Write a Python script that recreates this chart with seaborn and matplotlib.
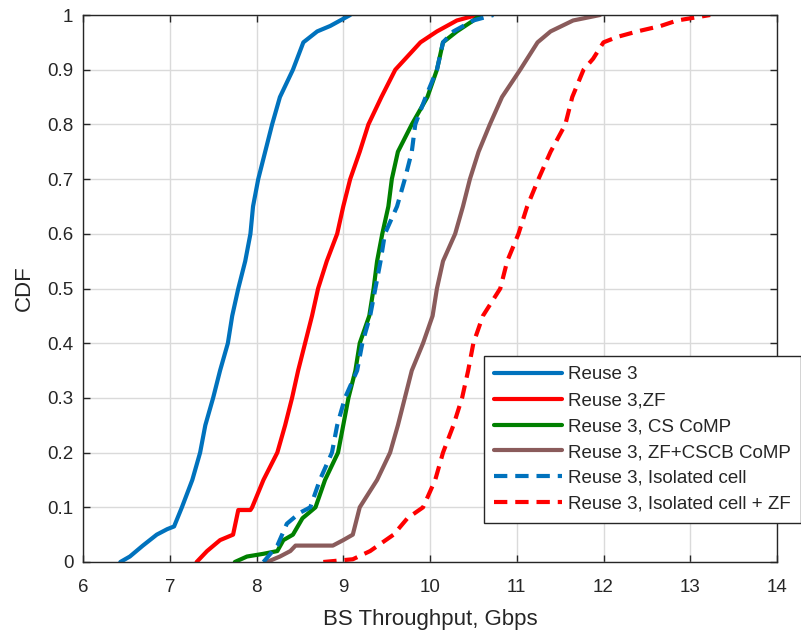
import matplotlib
matplotlib.use("Agg")
import matplotlib.pyplot as plt
import seaborn as sns
import pandas as pd

# ---- data: (throughput Gbps, CDF) ----
reuse3_x = [6.43, 6.54, 6.69, 6.85, 6.97, 7.05, 7.14, 7.26, 7.35, 7.41, 7.50, 7.58, 7.67, 7.72,
            7.79, 7.87, 7.93, 7.96, 8.02, 8.10, 8.18, 8.27, 8.42, 8.54, 8.70, 8.85, 9.08]
reuse3_y = [0.00, 0.01, 0.03, 0.05, 0.06, 0.065, 0.10, 0.15, 0.20, 0.25, 0.30, 0.35, 0.40, 0.45,
            0.50, 0.55, 0.60, 0.65, 0.70, 0.75, 0.80, 0.85, 0.90, 0.95, 0.97, 0.98, 1.00]

zf_x = [7.31, 7.43, 7.58, 7.73, 7.79, 7.93, 7.95, 8.08, 8.24, 8.33, 8.41, 8.48, 8.56, 8.64,
        8.71, 8.81, 8.93, 9.00, 9.08, 9.19, 9.29, 9.44, 9.60, 9.89, 10.08, 10.31, 10.54]
zf_y = [0.00, 0.02, 0.04, 0.05, 0.095, 0.095, 0.10, 0.15, 0.20, 0.25, 0.30, 0.35, 0.40, 0.45,
        0.50, 0.55, 0.60, 0.65, 0.70, 0.75, 0.80, 0.85, 0.90, 0.95, 0.97, 0.99, 1.00]

cs_x = [7.75, 7.89, 8.08, 8.24, 8.31, 8.42, 8.53, 8.68, 8.79, 8.94, 9.00, 9.06, 9.14, 9.19,
        9.30, 9.35, 9.39, 9.45, 9.52, 9.56, 9.63, 9.79, 9.97, 10.08, 10.15, 10.31, 10.50, 10.58]
cs_y = [0.00, 0.01, 0.015, 0.02, 0.04, 0.05, 0.08, 0.10, 0.15, 0.20, 0.25, 0.30, 0.35, 0.40,
        0.45, 0.50, 0.55, 0.60, 0.65, 0.70, 0.75, 0.80, 0.85, 0.90, 0.95, 0.97, 0.99, 1.00]

cscb_x = [8.12, 8.27, 8.39, 8.45, 8.88, 9.00, 9.11, 9.19, 9.39, 9.54, 9.63, 9.71, 9.79, 9.92,
          10.03, 10.08, 10.15, 10.29, 10.38, 10.46, 10.56, 10.69, 10.83, 11.04, 11.24, 11.39,
          11.65, 11.96]
cscb_y = [0.00, 0.01, 0.02, 0.03, 0.03, 0.04, 0.05, 0.10, 0.15, 0.20, 0.25, 0.30, 0.35, 0.40,
          0.45, 0.50, 0.55, 0.60, 0.65, 0.70, 0.75, 0.80, 0.85, 0.90, 0.95, 0.97, 0.99, 1.00]

iso_x = [8.08, 8.24, 8.35, 8.50, 8.62, 8.73, 8.87, 8.93, 9.02, 9.16, 9.22, 9.31, 9.37, 9.43,
         9.48, 9.62, 9.71, 9.79, 9.83, 9.95, 10.08, 10.15, 10.27, 10.50, 10.73]
iso_y = [0.00, 0.03, 0.07, 0.09, 0.10, 0.15, 0.20, 0.25, 0.30, 0.35, 0.40, 0.45, 0.50, 0.55,
         0.60, 0.65, 0.70, 0.75, 0.80, 0.85, 0.90, 0.95, 0.97, 0.99, 1.00]

isozf_x = [8.77, 9.11, 9.31, 9.58, 9.74, 9.92, 10.06, 10.15, 10.27, 10.37, 10.44, 10.50, 10.61,
           10.81, 10.89, 11.02, 11.12, 11.25, 11.39, 11.56, 11.64, 11.77, 11.88, 12.00, 12.16,
           12.39, 12.66, 12.85, 13.23]
isozf_y = [0.00, 0.005, 0.02, 0.05, 0.08, 0.10, 0.15, 0.20, 0.25, 0.30, 0.35, 0.40, 0.45,
           0.50, 0.55, 0.60, 0.65, 0.70, 0.75, 0.80, 0.85, 0.90, 0.92, 0.95, 0.96,
           0.97, 0.98, 0.99, 1.00]

labels = ["Reuse 3", "Reuse 3,ZF", "Reuse 3, CS CoMP", "Reuse 3, ZF+CSCB CoMP",
          "Reuse 3, Isolated cell", "Reuse 3, Isolated cell + ZF"]
x_ticks = [6, 7, 8, 9, 10, 11, 12, 13, 14]
y_ticks = [0, 0.1, 0.2, 0.3, 0.4, 0.5, 0.6, 0.7, 0.8, 0.9, 1]
y_tick_labels = ["0", "0.1", "0.2", "0.3", "0.4", "0.5", "0.6", "0.7", "0.8", "0.9", "1"]

series = [(reuse3_x, reuse3_y), (zf_x, zf_y), (cs_x, cs_y), (cscb_x, cscb_y),
          (iso_x, iso_y), (isozf_x, isozf_y)]
colors = ["#0072BD", "#FF0000", "#008000", "#8A5B5B", "#0072BD", "#FF0000"]
dashed = [False, False, False, False, True, True]

sns.set_theme(style="white")
plt.rcParams["font.family"] = ["Liberation Sans", "DejaVu Sans"]
TXT = "#262626"

fig = plt.figure(figsize=(8.01, 6.35), dpi=100)
ax = fig.add_axes([83 / 801, 73 / 635, 694 / 801, 547 / 635])

for (xs, ys), lab, c, d in zip(series, labels, colors, dashed):
    df = pd.DataFrame({"x": xs, "y": ys})
    sns.lineplot(data=df, x="x", y="y", sort=False, estimator=None, ax=ax,
                 color=c, linewidth=3.0, label=lab)
    line = ax.get_lines()[-1]
    if d:
        line.set_dashes([3.2, 1.9])

ax.set_xlim(6, 14)
ax.set_ylim(0, 1)
ax.set_xticks(x_ticks)
ax.set_xticklabels([str(t) for t in x_ticks])
ax.set_yticks(y_ticks)
ax.set_yticklabels(y_tick_labels)
ax.grid(True, color="#dadada", linewidth=1.0)
ax.set_axisbelow(True)
for s in ax.spines.values():
    s.set_color(TXT)
    s.set_linewidth(1.0)
ax.tick_params(direction="in", length=5, width=1.0, colors=TXT, labelsize=13.5,
               top=True, right=True, bottom=True, left=True)
ax.tick_params(axis="x", pad=12.5)
ax.tick_params(axis="y", pad=7)
ax.set_xlabel("BS Throughput, Gbps", fontsize=16, color=TXT, labelpad=9)
ax.set_ylabel("CDF", fontsize=16, color=TXT, labelpad=9)

leg = ax.legend(loc="upper left", bbox_to_anchor=(0.578, 0.377), fontsize=13.5,
                frameon=True, fancybox=False, edgecolor=TXT, framealpha=1,
                handlelength=3.6, handletextpad=0.32, labelspacing=0.47,
                borderpad=0.55, borderaxespad=0)
leg.get_frame().set_linewidth(1.0)
for t in leg.get_texts():
    t.set_color(TXT)

fig.savefig("out.png", dpi=100)
